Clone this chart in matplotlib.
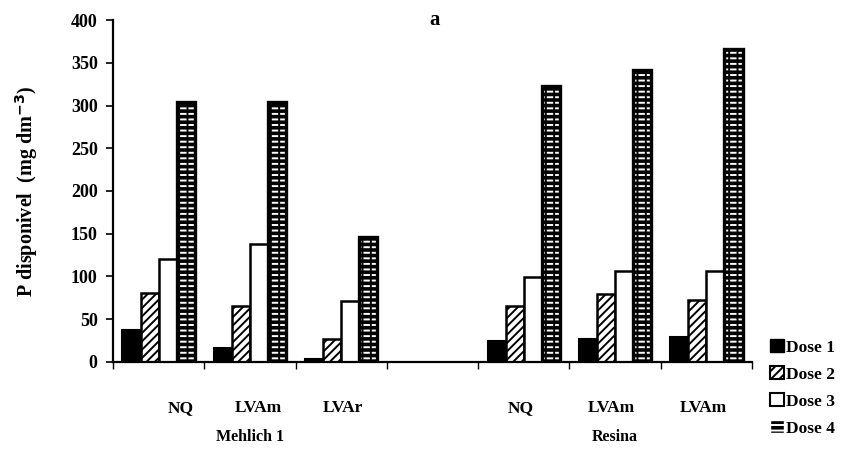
import numpy as np
import matplotlib
matplotlib.use("Agg")
import matplotlib.pyplot as plt
from matplotlib.patches import Patch

plt.rcParams["font.family"] = ["Liberation Serif", "DejaVu Serif"]
plt.rcParams["font.weight"] = "bold"
plt.rcParams["hatch.linewidth"] = 1.4

# dados
metodos = ["Mehlich 1", "Resina"]
categorias = ["NQ", "LVAm", "LVAr", "", "NQ", "LVAm", "LVAm"]
slots = [0, 1, 2, 4, 5, 6]  # slot 3 fica vazio (separador)
dose1 = [37, 16, 4, 24, 27, 29]
dose2 = [81, 65, 27, 66, 80, 72]
dose3 = [121, 138, 71, 99, 106, 106]
dose4 = [304, 304, 146, 323, 342, 366]
doses = ["Dose 1", "Dose 2", "Dose 3", "Dose 4"]

fig = plt.figure(figsize=(8.65, 4.72), dpi=100)
ax = fig.add_axes([0.1306, 0.2331, 0.7388, 0.7245])

largura = 0.198
x = np.array(slots) + 0.5
series = [dose1, dose2, dose3, dose4]

for k, vals in enumerate(series):
    pos = x + (k - 1.5) * largura
    if k == 0:
        ax.bar(pos, vals, largura, color="black", edgecolor="black", linewidth=1.5)
    elif k == 1:
        ax.bar(pos, vals, largura, color="white", edgecolor="black", hatch="////", linewidth=1.8)
    elif k == 2:
        ax.bar(pos, vals, largura, color="white", edgecolor="black", linewidth=1.8)
    else:
        # padrao "tijolo": tracos brancos sobre preto
        ax.bar(pos, vals, largura, color="black", edgecolor="white", hatch="---", linewidth=0)
        ax.bar(pos, vals, largura, fill=False, edgecolor="black", hatch="||", linewidth=0)
        ax.bar(pos, vals, largura, fill=False, edgecolor="black", linewidth=2.4)

ax.set_xlim(0, 7)
ax.set_ylim(0, 400)
ax.set_yticks(range(0, 401, 50))
ax.set_xticks(range(0, 8))
ax.set_xticklabels([])
ax.tick_params(axis="y", direction="out", length=5, width=1.2, labelsize=13, pad=6)
ax.tick_params(axis="x", direction="out", length=5, width=1.0)
for lab in ax.get_yticklabels():
    lab.set_fontweight("bold")

ax.spines["top"].set_visible(False)
ax.spines["right"].set_visible(False)
ax.spines["left"].set_linewidth(1.6)
ax.spines["bottom"].set_linewidth(1.6)

# rotulos das categorias
desloc = [0.24, 0.09, 0.02, 0, -0.03, -0.04, -0.03]
for i, nome in enumerate(categorias):
    if nome:
        ax.text(i + 0.5 + desloc[i], -0.135, nome, transform=ax.get_xaxis_transform(),
                ha="center", va="center", fontsize=12.5, fontweight="bold")

ax.text(1.5, -0.22, metodos[0], transform=ax.get_xaxis_transform(),
        ha="center", va="center", fontsize=11.5, fontweight="bold")
ax.text(5.5, -0.22, metodos[1], transform=ax.get_xaxis_transform(),
        ha="center", va="center", fontsize=11.5, fontweight="bold")

ax.set_ylabel("P disponivel  (mg dm$^{\\mathbf{-3}}$)", fontsize=14.5, fontweight="bold", labelpad=22)
ax.text(3.52, 1.0, "a", transform=ax.get_xaxis_transform(), ha="center", va="center",
        fontsize=15, fontweight="bold")

handles = [
    Patch(facecolor="black", edgecolor="black"),
    Patch(facecolor="white", edgecolor="black", hatch="////", linewidth=1.5),
    Patch(facecolor="white", edgecolor="black", linewidth=1.5),
    Patch(facecolor="black", edgecolor="white", hatch="---"),
]
fig.legend(handles, doses, loc="upper left", bbox_to_anchor=(0.89, 0.282),
           frameon=False, handlelength=0.8, handleheight=0.8,
           handletextpad=0.15, labelspacing=0.6, borderaxespad=0, borderpad=0,
           prop={"weight": "bold", "size": 12.5})

fig.savefig("out.png", dpi=100)
